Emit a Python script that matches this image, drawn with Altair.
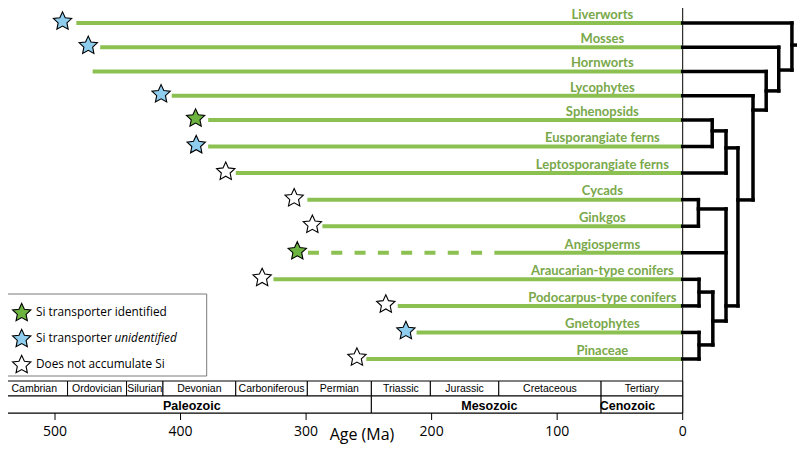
import math
import altair as alt
import pandas as pd

# ---------------- data ----------------
species = ["Liverworts", "Mosses", "Hornworts", "Lycophytes", "Sphenopsids",
           "Eusporangiate ferns", "Leptosporangiate ferns", "Cycads", "Ginkgos",
           "Angiosperms", "Araucarian-type conifers", "Podocarpus-type conifers",
           "Gnetophytes", "Pinaceae"]
# age (Ma) where the solid fossil-record line starts
line_start = [483, 464, 470, 407, 378, 378, 356, 299, 287, 149.5, 326, 227, 212, 252]
# angiosperm uncertain (dashed) record
dashed_species = ["Angiosperms"]
dashed_start = [298.5]
dashed_end = [149.5]
# star (Si status) ages
star_age = [494, 473.5, None, 415.5, 388, 387.5, 364, 309.5, 295, 307, 335, 236.5, 220.5, 259.5]
star_status = ["unidentified", "unidentified", None, "unidentified", "identified",
               "unidentified", "none", "none", "none", "identified", "none", "none",
               "unidentified", "none"]

periods = ["Cambrian", "Ordovician", "Silurian", "Devonian", "Carboniferous", "Permian",
           "Triassic", "Jurassic", "Cretaceous", "Tertiary"]
period_bounds = [543, 490, 443, 414, 356, 299, 248, 201, 146.5, 65, 0]
eras = ["Paleozoic", "Mesozoic", "Cenozoic"]
era_bounds = [543, 248, 65, 0]
era_label_age = [391, 154, 44]

# cladogram: terminal branches go from age 0 to their parent node (negative = right of 0)
leaf_parent_age = [-87, -76.5, -66.5, -56, -23.5, -23.5, -34.5, -12.5, -12.5, -34.5,
                   -13, -13, -13, -13]
node_age = [-87, -76.5, -66.5, -56, -44, -34.5, -23.5, -34.5, -12.5, -24, -13, -13]
node_top = [0, 1, 2, 3, 5.05, 4.41, 4, 7.35, 7, 10.48, 10, 12]
node_bottom = [1.94, 2.8, 3.59, 7.01, 11.0, 6, 5, 11.57, 8, 12.47, 11, 13]
node_attach = [0.91, 1.94, 2.8, 3.59, 7.01, 5.05, 4.41, 11.0, 7.35, 11.57, 10.48, 12.47]
node_parent_age = [-95, -87, -76.5, -66.5, -56, -44, -34.5, -44, -34.5, -34.5, -24, -24]

legend_status = ["identified", "unidentified", "none"]
legend_text = ["Si transporter identified", "Si transporter", "Does not accumulate Si"]
legend_italic = ["", "unidentified", ""]

axis_ticks = [500, 400, 300, 200, 100, 0]
axis_title = "Age (Ma)"

# ---------------- styles ----------------
LINE_GREEN = "#8cc152"
TEXT_GREEN = "#79a84a"
STAR_GREEN = "#6db33f"
STAR_BLUE = "#8fcdee"
LABEL_AGE = 64


def star_path(r_in=0.48):
    pts = []
    for k in range(10):
        a = math.radians(-90 + 36 * k)
        r = 1.0 if k % 2 == 0 else r_in
        pts.append(f"{r * math.cos(a):.4f},{r * math.sin(a):.4f}")
    return "M" + "L".join(pts) + "Z"


STAR = star_path()

X_SCALE = alt.Scale(domain=[500, 0], range=[55, 682.7], nice=False, zero=False)
Y_SCALE = alt.Scale(domain=[0, 4, 13], range=[23, 120, 359], nice=False, zero=False)
LEG_SCALE = alt.Scale(domain=[0, 2], range=[313, 365], nice=False, zero=False)
FILL_SCALE = alt.Scale(domain=["identified", "unidentified", "none"],
                       range=[STAR_GREEN, STAR_BLUE, "white"])


def X(field):
    return alt.X(field, type="quantitative", scale=X_SCALE, axis=None)


def Y(field):
    return alt.Y(field, type="quantitative", scale=Y_SCALE, axis=None)


rows = list(range(len(species)))

lines_df = pd.DataFrame({"species": species, "row": rows, "start": line_start,
                         "end": [0] * len(species)})
dash_df = pd.DataFrame({"row": [species.index(s) for s in dashed_species],
                        "start": dashed_start, "end": dashed_end})
stars_df = pd.DataFrame({"row": rows, "age": star_age, "status": star_status}).dropna()
labels_df = pd.DataFrame({"species": species, "row": rows,
                          "x": [LABEL_AGE] * len(species)})

period_df = pd.DataFrame({"name": periods, "start": period_bounds[:-1],
                          "end": period_bounds[1:]})
period_df["mid"] = (period_df["start"] + period_df["end"]) / 2
era_df = pd.DataFrame({"name": eras, "start": era_bounds[:-1], "end": era_bounds[1:],
                       "lab": era_label_age})

leaf_df = pd.DataFrame({"row": rows, "a0": [0] * len(species), "a1": leaf_parent_age})
vert_df = pd.DataFrame({"age": node_age, "top": node_top, "bottom": node_bottom})
horiz_df = pd.DataFrame({"row": node_attach, "a0": node_age, "a1": node_parent_age})

leg_df = pd.DataFrame({"idx": [0, 1, 2], "status": legend_status, "text": legend_text,
                       "ital": legend_italic})
tick_df = pd.DataFrame({"t": axis_ticks, "lab": [str(t) for t in axis_ticks]})
one = pd.DataFrame({"a": [0]})
title_df = pd.DataFrame({"title": [axis_title]})

# ---------------- layers ----------------
period_rect = alt.Chart(period_df).mark_rect(fill="white", stroke="black", strokeWidth=1).encode(
    x=X("start"), x2="end", y=alt.value(381), y2=alt.value(396))
era_rect = alt.Chart(era_df).mark_rect(fill="white", stroke="black", strokeWidth=1).encode(
    x=X("start"), x2="end", y=alt.value(396), y2=alt.value(413))
period_text = alt.Chart(period_df).mark_text(
    font="Liberation Sans", fontSize=10.5, baseline="alphabetic", color="black").encode(
    x=X("mid"), y=alt.value(392), text="name")
era_text = alt.Chart(era_df).mark_text(
    font="Liberation Sans", fontSize=12.5, fontWeight="bold", baseline="alphabetic",
    color="black").encode(x=X("lab"), y=alt.value(409.5), text="name")

# x axis drawn from the tick list
ticks = alt.Chart(tick_df).mark_rule(color="black", strokeWidth=1).encode(
    x=X("t"), y=alt.value(413), y2=alt.value(420))
tick_labels = alt.Chart(tick_df).mark_text(
    font="Open Sans", fontSize=14, baseline="alphabetic", color="black").encode(
    x=X("t"), y=alt.value(435.5), text="lab")
title = alt.Chart(title_df).mark_text(
    font="Open Sans", fontSize=16, baseline="alphabetic", color="black").encode(
    x=alt.value(362), y=alt.value(440), text="title")

frame = alt.Chart(one).mark_rect(fill=None, stroke="black", strokeWidth=1).encode(
    x=alt.value(1), x2=alt.value(682.7), y=alt.value(0.5), y2=alt.value(413))

green = alt.Chart(lines_df).mark_rule(strokeWidth=4, color=LINE_GREEN).encode(
    x=X("start"), x2="end", y=Y("row"))
dashed = alt.Chart(dash_df).mark_rule(strokeWidth=4, color=LINE_GREEN,
                                      strokeDash=[11, 12.3]).encode(
    x=X("start"), x2="end", y=Y("row"))
stars = alt.Chart(stars_df).mark_point(
    shape=STAR, size=370, filled=True, opacity=1, stroke="black", strokeWidth=1.1,
    yOffset=-1.5).encode(
    x=X("age"), y=Y("row"),
    fill=alt.Fill("status:N", scale=FILL_SCALE, legend=None))
labels = alt.Chart(labels_df).mark_text(
    font="Lato", fontSize=13, fontWeight="bold", color=TEXT_GREEN, baseline="alphabetic",
    dy=-4.2).encode(x=X("x"), y=Y("row"), text="species")

tree_leaf = alt.Chart(leaf_df).mark_rule(strokeWidth=3.5, color="black", strokeCap="square").encode(
    x=X("a0"), x2="a1", y=Y("row"))
tree_vert = alt.Chart(vert_df).mark_rule(strokeWidth=3.5, color="black", strokeCap="square").encode(
    x=X("age"), y=Y("top"), y2="bottom")
tree_horiz = alt.Chart(horiz_df).mark_rule(strokeWidth=3.5, color="black", strokeCap="square").encode(
    x=X("a0"), x2="a1", y=Y("row"))

leg_box = alt.Chart(one).mark_rect(fill="white", stroke="#7a7a7a", strokeWidth=1).encode(
    x=alt.value(7.3), x2=alt.value(206.7), y=alt.value(294), y2=alt.value(376))
leg_star = alt.Chart(leg_df).mark_point(
    shape=STAR, size=370, filled=True, opacity=1, stroke="black", strokeWidth=1.1).encode(
    x=alt.value(21.7), y=alt.Y("idx:Q", scale=LEG_SCALE, axis=None),
    fill=alt.Fill("status:N", scale=FILL_SCALE, legend=None))
leg_text = alt.Chart(leg_df).mark_text(
    font="Open Sans", fontSize=11.8, align="left", baseline="alphabetic", dy=3,
    color="black").encode(
    x=alt.value(36), y=alt.Y("idx:Q", scale=LEG_SCALE, axis=None), text="text")
leg_ital = alt.Chart(leg_df).mark_text(
    font="Open Sans", fontSize=11.8, fontStyle="italic", align="left",
    baseline="alphabetic", dy=3, color="black").encode(
    x=alt.value(114.5), y=alt.Y("idx:Q", scale=LEG_SCALE, axis=None), text="ital")

chart = alt.layer(
    frame, period_rect, era_rect, period_text, era_text, ticks, tick_labels, title,
    green, dashed, tree_leaf, tree_horiz, tree_vert, stars, labels,
    leg_box, leg_star, leg_text, leg_ital
).resolve_scale(y="independent").properties(
    width=805, height=413,
    autosize=alt.AutoSizeParams(type="none"),
    padding={"left": -8, "top": -8, "right": -8, "bottom": 32},
    background="white",
).configure_view(stroke=None)

chart.save("out.html", embed_options={"renderer": "svg", "actions": False})
